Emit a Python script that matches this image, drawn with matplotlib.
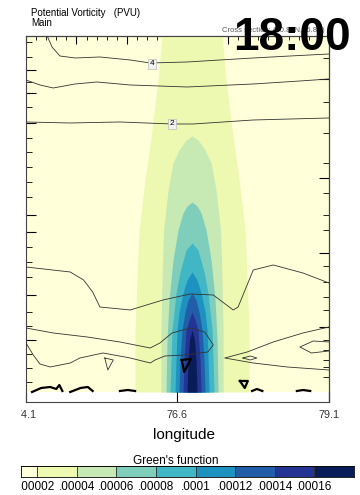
import numpy as np
import matplotlib
matplotlib.use("Agg")
import matplotlib.pyplot as plt
from matplotlib.patches import Rectangle

plt.rcParams['font.family'] = ['Liberation Sans', 'DejaVu Sans']

# Green's function colour levels (YlGnBu, 9 classes)
levels = [0.00002, 0.00004, 0.00006, 0.00008, 0.0001, 0.00012, 0.00014, 0.00016]
level_labels = ['.00002', '.00004', '.00006', '.00008', '.0001', '.00012', '.00014', '.00016']
colors = ['#ffffd9', '#edf8b1', '#c7e9b4', '#7fcdbb', '#41b6c4',
          '#1d91c0', '#225ea8', '#253494', '#081d58']

# plume centre (longitude) and, per level, heights + half widths (deg) of the contour edge
plume_lon = 76.84
band_h = [
    [18.3, 16.1, 13.6, 11.1, 8.6, 6.1, 3.6, 0.5],
    [13.3, 13.1, 12.6, 11.95, 10.6, 8.6, 6.1, 3.6, 0.5],
    [10.0, 9.8, 9.45, 8.6, 7.1, 5.1, 3.1, 0.5],
    [7.95, 7.6, 6.5, 5.45, 4.5, 3.6, 2.1, 0.5],
    [6.5, 6.1, 5.45, 4.5, 3.6, 2.1, 0.5],
    [5.45, 5.1, 4.5, 3.6, 2.1, 0.5],
    [4.5, 4.1, 3.6, 2.1, 0.5],
    [3.6, 3.1, 2.1, 0.5],
]
band_w = [
    [0.495, 0.561, 0.66, 0.776, 0.875, 0.908, 0.941, 0.941],
    [0.0, 0.099, 0.215, 0.314, 0.396, 0.47, 0.495, 0.512, 0.512],
    [0.0, 0.083, 0.149, 0.231, 0.314, 0.38, 0.413, 0.429],
    [0.0, 0.099, 0.198, 0.264, 0.297, 0.33, 0.347, 0.363],
    [0.0, 0.083, 0.149, 0.215, 0.248, 0.264, 0.281],
    [0.0, 0.066, 0.116, 0.165, 0.198, 0.215],
    [0.0, 0.05, 0.099, 0.132, 0.149],
    [0.0, 0.041, 0.066, 0.083],
]

# potential vorticity contours (lon, height), thin lines
pv_lines = [
    ([74.45, 74.53, 74.66, 74.91, 75.32, 75.82, 76.15, 76.76, 77.30, 77.85, 78.46, 79.1],
     [18.3, 17.75, 17.3, 17.2, 17.25, 17.1, 16.95, 17.0, 17.1, 17.2, 17.3, 17.4]),
    ([74.1, 74.33, 74.55, 74.91, 75.27, 75.82, 76.76, 77.85, 78.62, 79.1],
     [16.1, 15.85, 15.7, 15.9, 16.0, 15.85, 15.75, 15.9, 16.05, 16.15]),
    ([74.1, 74.83, 75.65, 76.51, 76.86, 77.85, 79.1],
     [14.0, 13.95, 14.0, 13.9, 13.9, 14.1, 14.2]),
    ([74.1, 74.83, 75.05, 75.2, 75.32, 75.82, 76.36, 76.81, 77.19, 77.52, 77.6, 77.85, 78.18, 78.67, 79.1],
     [6.75, 6.5, 6.1, 5.5, 4.75, 4.6, 5.1, 5.4, 5.35, 4.6, 4.75, 6.6, 6.85, 6.45, 5.95]),
    ([74.1, 74.55, 75.11, 75.65, 76.15, 76.31, 76.51, 76.81, 77.05, 77.19, 77.10, 76.72, 76.39,
      76.23, 76.15, 75.82, 75.37, 74.99, 74.83, 74.50, 74.33, 74.22, 74.1],
     [3.7, 3.45, 3.25, 3.0, 2.7, 2.95, 3.45, 3.7, 3.5, 2.85, 2.5, 2.35, 2.3,
      2.1, 1.95, 2.2, 2.45, 2.2, 1.95, 1.75, 1.9, 2.35, 2.95]),
    ([79.1, 78.67, 78.18, 77.75, 77.38, 77.85, 78.41, 79.1],
     [3.75, 3.45, 3.0, 2.5, 2.2, 1.95, 1.75, 1.6]),
    ([77.68, 77.80, 77.91, 77.80, 77.68], [2.2, 2.3, 2.2, 2.1, 2.2]),
    ([79.1, 78.84, 78.62, 78.81, 79.1], [3.0, 3.05, 2.75, 2.45, 2.55]),
    ([75.40, 75.54, 75.45, 75.40], [2.2, 2.1, 1.6, 2.2]),
]
# thick contours near the ground
pv_thick = [
    ([76.67, 76.82, 76.71, 76.67], [2.1, 2.15, 1.5, 2.1]),
    ([77.63, 77.76, 77.71, 77.63], [1.05, 1.05, 0.7, 1.05]),
    ([74.2, 74.35, 74.5, 74.6, 74.65, 74.7], [0.5, 0.7, 0.75, 0.65, 0.85, 0.55]),
    ([74.83, 75.0, 75.12, 75.2], [0.5, 0.7, 0.75, 0.55]),
    ([75.65, 75.78, 75.9], [0.55, 0.6, 0.55]),
    ([77.83, 77.91, 78.0], [0.55, 0.65, 0.55]),
    ([78.57, 78.67, 78.79], [0.55, 0.6, 0.55]),
]
pv_labels = [('4', 76.18, 16.9), ('2', 76.51, 13.9)]

# vertical tick heights (left / right axis)
left_major = [16.6, 15.45, 13.95, 9.35, 8.5, 5.35, 3.1]
left_minor = [18.0, 17.25, 16.0, 14.75, 13.2, 12.5, 11.75, 11.0, 10.25, 7.75, 7.0, 6.25,
              4.5, 3.8, 2.4, 1.7, 1.0]
right_major = [16.15, 11.2, 7.45, 3.75]
right_minor = [18.3, 17.2, 15.0, 13.45, 11.95, 10.45, 9.35, 8.6, 6.8, 6.0, 5.25, 4.6,
               3.1, 2.6, 2.1, 1.75, 1.25]

fig = plt.figure(figsize=(3.6, 4.95), dpi=100)
ax = fig.add_axes([0.0722, 0.1879, 0.8417, 0.7394])
ax.set_xlim(74.1, 79.1)
ax.set_ylim(0, 18.3)
ax.axhspan(0.5, 18.3, color=colors[0], lw=0, zorder=0)

for i in range(len(band_h)):
    h = np.array(band_h[i])
    w = np.array(band_w[i])
    ax.fill_betweenx(h, plume_lon - w, plume_lon + w, color=colors[i + 1], lw=0, zorder=1)

for xs, ys in pv_lines:
    ax.plot(xs, ys, color='#333333', lw=0.6, zorder=3)
for xs, ys in pv_thick:
    ax.plot(xs, ys, color='black', lw=1.6, zorder=3)

box = dict(boxstyle='square,pad=0.15', fc='#f2f2f2', ec='#bbbbbb', lw=0.5)
for txt, x, y in pv_labels:
    ax.text(x, y, txt, fontsize=6, ha='center', va='center', bbox=box, zorder=4)

ax.set_xticks([74.1, 76.6, 79.1])
ax.set_xticklabels(['74.1', '76.6', '79.1'], fontsize=7.8, color='#333333')
ax.tick_params(axis='x', direction='in', length=7, pad=6)
ax.set_yticks(left_major)
ax.set_yticks(left_minor, minor=True)
ax.tick_params(axis='y', which='major', direction='in', length=7, labelleft=False)
ax.tick_params(axis='y', which='minor', direction='in', length=4)
for s in ax.spines.values():
    s.set_color('#444444')
    s.set_linewidth(0.8)

right = ax.secondary_yaxis('right')
right.set_yticks(right_major)
right.set_yticks(right_minor, minor=True)
right.tick_params(which='major', direction='in', length=7, labelright=False)
right.tick_params(which='minor', direction='in', length=4)

top = ax.secondary_xaxis('top')
top.set_xticks(np.linspace(74.1, 79.1, 7))
top.set_xticklabels([])
top.tick_params(direction='in', length=6)
top.set_xticks(np.linspace(74.1, 79.1, 31), minor=True)
top.tick_params(which='minor', direction='in', length=3)

fig.text(184 / 360, 1 - 435 / 495, 'longitude', fontsize=11, ha='center', va='center')
fig.text(31 / 360, 1 - 13 / 495, 'Potential Vorticity   (PVU)', fontsize=7, ha='left', va='center')
fig.text(31 / 360, 1 - 23 / 495, 'Main', fontsize=7, ha='left', va='center')
fig.text(222 / 360, 1 - 30 / 495, 'Cross section: (30.89N,76.8E)', fontsize=5.5, color='#555555',
         ha='left', va='center', zorder=1)
fig.text(292 / 360, 1 - 38 / 495, '18:00', fontsize=33, fontweight='bold', ha='center', va='center',
         zorder=5)

# colour bar
cax = fig.add_axes([21 / 360, 1 - 477 / 495, 333 / 360, 11 / 495])
bounds = [0.0] + levels + [0.00018]
for i in range(len(colors)):
    cax.add_patch(Rectangle((bounds[i], 0), bounds[i + 1] - bounds[i], 1, fc=colors[i],
                            ec='#333333', lw=0.6))
cax.set_xlim(0.0000119, 0.00018)
cax.set_ylim(0, 1)
cax.set_yticks([])
cax.set_xticks(levels)
cax.set_xticklabels(level_labels, fontsize=8.5)
cax.tick_params(axis='x', length=0, pad=3)
for s in cax.spines.values():
    s.set_linewidth(0.6)
fig.text(176 / 360, 1 - 461 / 495, "Green's function", fontsize=8.5, ha='center', va='center')

# crop on the left edge, as in the source image
fig.add_artist(Rectangle((0, 0), 21 / 360, 1, transform=fig.transFigure, fc='white', ec='none',
                         zorder=10))

fig.savefig('out.png', dpi=100)
